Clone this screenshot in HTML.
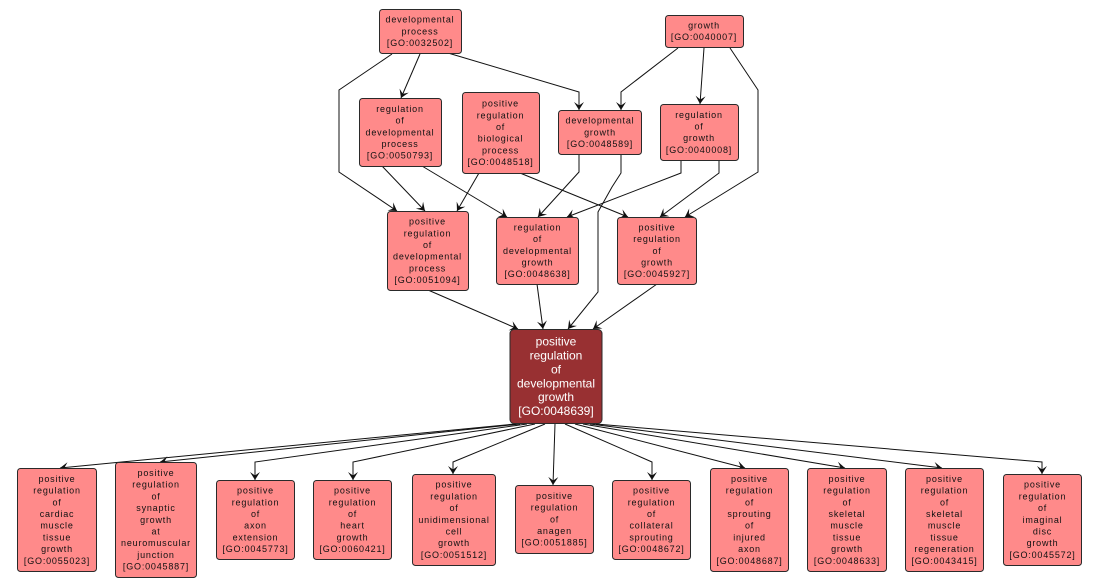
<!DOCTYPE html>
<html>
<head>
<meta charset="utf-8">
<style>
html,body{margin:0;padding:0;background:#fff;}
svg{display:block;}
.n{fill:#ff8a8a;stroke:#2a2a2a;stroke-width:1;}
.c{fill:#983032;stroke:#2a2a2a;stroke-width:1;}
.t{font-family:"Liberation Sans",Arial,sans-serif;font-size:9px;letter-spacing:0.8px;fill:#111;text-anchor:middle;}
.w{font-family:"Liberation Sans",Arial,sans-serif;font-size:12px;fill:#fff;text-anchor:middle;}
.e{fill:none;stroke:#111;stroke-width:1;}
</style>
</head>
<body>
<svg width="1101" height="588" viewBox="0 0 1101 588" xmlns="http://www.w3.org/2000/svg">
<defs>
<marker id="a" markerUnits="userSpaceOnUse" markerWidth="14" markerHeight="14" viewBox="-10 -7 11 14" refX="0" refY="0" orient="auto">
<path d="M0,0 L-8,-5 L-4.5,0 L-8,5 Z" fill="#111"/>
</marker>
</defs>

<!-- edges top -->
<polyline class="e" marker-end="url(#a)" points="420,54 401,98"/>
<polyline class="e" marker-end="url(#a)" points="392,54 339,90 339,172 397,211"/>
<polyline class="e" marker-end="url(#a)" points="448,53 579,92 579,110"/>
<polyline class="e" marker-end="url(#a)" points="678,48 621,92 621,110"/>
<polyline class="e" marker-end="url(#a)" points="704,48 700,104"/>
<polyline class="e" marker-end="url(#a)" points="730,48 758,90 758,172 685,217"/>
<polyline class="e" marker-end="url(#a)" points="382,166 425,211"/>
<polyline class="e" marker-end="url(#a)" points="422,166 507,217"/>
<polyline class="e" marker-end="url(#a)" points="479,173 457,211"/>
<polyline class="e" marker-end="url(#a)" points="520,173 628,217"/>
<polyline class="e" marker-end="url(#a)" points="579,154 579,172 538,217"/>
<polyline class="e" marker-end="url(#a)" points="621,154 621,173 612,187 598,212 598,292 568,329"/>
<polyline class="e" marker-end="url(#a)" points="681,160 681,173 567,217"/>
<polyline class="e" marker-end="url(#a)" points="719,160 719,173 660,217"/>
<polyline class="e" marker-end="url(#a)" points="428,290 518,329"/>
<polyline class="e" marker-end="url(#a)" points="537,284 543,329"/>
<polyline class="e" marker-end="url(#a)" points="657,284 593,329"/>

<!-- edges bottom -->
<polyline class="e" marker-end="url(#a)" points="515,424 60,468"/>
<polyline class="e" marker-end="url(#a)" points="520,424 160,462"/>
<polyline class="e" marker-end="url(#a)" points="527,424 255,462 255,480"/>
<polyline class="e" marker-end="url(#a)" points="535,424 353,462 353,480"/>
<polyline class="e" marker-end="url(#a)" points="545,424 453,462 453,474"/>
<polyline class="e" marker-end="url(#a)" points="555,424 553,485"/>
<polyline class="e" marker-end="url(#a)" points="565,424 652,462 652,480"/>
<polyline class="e" marker-end="url(#a)" points="575,424 745,468"/>
<polyline class="e" marker-end="url(#a)" points="583,424 845,468"/>
<polyline class="e" marker-end="url(#a)" points="590,424 942,468"/>
<polyline class="e" marker-end="url(#a)" points="596,424 1042,462 1042,474"/>

<!-- nodes -->
<rect class="n" x="379.5" y="9.5" width="82" height="44" rx="3"/>
<text class="t" x="420" y="22.6">developmental</text>
<text class="t" x="420" y="34.3">process</text>
<text class="t" x="420" y="46">[GO:0032502]</text>

<rect class="n" x="665.5" y="15.5" width="78" height="32" rx="3"/>
<text class="t" x="704" y="28.5">growth</text>
<text class="t" x="704" y="40.2">[GO:0040007]</text>

<rect class="n" x="359.5" y="98.5" width="82" height="68" rx="3"/>
<text class="t" x="400" y="111.9">regulation</text>
<text class="t" x="400" y="123.6">of</text>
<text class="t" x="400" y="135.3">developmental</text>
<text class="t" x="400" y="147">process</text>
<text class="t" x="400" y="158.7">[GO:0050793]</text>

<rect class="n" x="462.5" y="92.5" width="77" height="81" rx="3"/>
<text class="t" x="500.5" y="106.6">positive</text>
<text class="t" x="500.5" y="118.3">regulation</text>
<text class="t" x="500.5" y="130">of</text>
<text class="t" x="500.5" y="141.7">biological</text>
<text class="t" x="500.5" y="153.4">process</text>
<text class="t" x="500.5" y="165.1">[GO:0048518]</text>

<rect class="n" x="558.5" y="110.5" width="83" height="44" rx="3"/>
<text class="t" x="600" y="123.6">developmental</text>
<text class="t" x="600" y="135.3">growth</text>
<text class="t" x="600" y="147">[GO:0048589]</text>

<rect class="n" x="660.5" y="104.5" width="78" height="56" rx="3"/>
<text class="t" x="699" y="117.8">regulation</text>
<text class="t" x="699" y="129.5">of</text>
<text class="t" x="699" y="141.2">growth</text>
<text class="t" x="699" y="152.9">[GO:0040008]</text>

<rect class="n" x="387.5" y="211.5" width="81" height="79" rx="3"/>
<text class="t" x="427.5" y="224.6">positive</text>
<text class="t" x="427.5" y="236.3">regulation</text>
<text class="t" x="427.5" y="248">of</text>
<text class="t" x="427.5" y="259.7">developmental</text>
<text class="t" x="427.5" y="271.4">process</text>
<text class="t" x="427.5" y="283.1">[GO:0051094]</text>

<rect class="n" x="496.5" y="217.5" width="82" height="67" rx="3"/>
<text class="t" x="537.5" y="230.4">regulation</text>
<text class="t" x="537.5" y="242.1">of</text>
<text class="t" x="537.5" y="253.8">developmental</text>
<text class="t" x="537.5" y="265.5">growth</text>
<text class="t" x="537.5" y="277.2">[GO:0048638]</text>

<rect class="n" x="617.5" y="217.5" width="79" height="67" rx="3"/>
<text class="t" x="657" y="230.4">positive</text>
<text class="t" x="657" y="242.1">regulation</text>
<text class="t" x="657" y="253.8">of</text>
<text class="t" x="657" y="265.5">growth</text>
<text class="t" x="657" y="277.2">[GO:0045927]</text>

<rect class="c" x="510" y="329.5" width="92" height="94" rx="4"/>
<text class="w" x="556" y="345.6">positive</text>
<text class="w" x="556" y="359.5">regulation</text>
<text class="w" x="556" y="373.4">of</text>
<text class="w" x="556" y="387.3">developmental</text>
<text class="w" x="556" y="401.2">growth</text>
<text class="w" x="556" y="415.1">[GO:0048639]</text>

<!-- bottom row -->
<rect class="n" x="17.5" y="468.5" width="79" height="103" rx="3"/>
<text class="t" x="57" y="481.9">positive</text>
<text class="t" x="57" y="493.6">regulation</text>
<text class="t" x="57" y="505.3">of</text>
<text class="t" x="57" y="517">cardiac</text>
<text class="t" x="57" y="528.7">muscle</text>
<text class="t" x="57" y="540.4">tissue</text>
<text class="t" x="57" y="552.1">growth</text>
<text class="t" x="57" y="563.8">[GO:0055023]</text>

<rect class="n" x="115.5" y="462.5" width="81" height="115" rx="3"/>
<text class="t" x="156" y="476">positive</text>
<text class="t" x="156" y="487.7">regulation</text>
<text class="t" x="156" y="499.4">of</text>
<text class="t" x="156" y="511.1">synaptic</text>
<text class="t" x="156" y="522.8">growth</text>
<text class="t" x="156" y="534.5">at</text>
<text class="t" x="156" y="546.2">neuromuscular</text>
<text class="t" x="156" y="557.9">junction</text>
<text class="t" x="156" y="569.6">[GO:0045887]</text>

<rect class="n" x="216.5" y="480.5" width="78" height="79" rx="3"/>
<text class="t" x="255.5" y="493.6">positive</text>
<text class="t" x="255.5" y="505.3">regulation</text>
<text class="t" x="255.5" y="517">of</text>
<text class="t" x="255.5" y="528.7">axon</text>
<text class="t" x="255.5" y="540.4">extension</text>
<text class="t" x="255.5" y="552.1">[GO:0045773]</text>

<rect class="n" x="313.5" y="480.5" width="78" height="79" rx="3"/>
<text class="t" x="352.5" y="493.6">positive</text>
<text class="t" x="352.5" y="505.3">regulation</text>
<text class="t" x="352.5" y="517">of</text>
<text class="t" x="352.5" y="528.7">heart</text>
<text class="t" x="352.5" y="540.4">growth</text>
<text class="t" x="352.5" y="552.1">[GO:0060421]</text>

<rect class="n" x="412.5" y="474.5" width="83" height="91" rx="3"/>
<text class="t" x="454" y="487.7">positive</text>
<text class="t" x="454" y="499.4">regulation</text>
<text class="t" x="454" y="511.1">of</text>
<text class="t" x="454" y="522.8">unidimensional</text>
<text class="t" x="454" y="534.5">cell</text>
<text class="t" x="454" y="546.2">growth</text>
<text class="t" x="454" y="557.9">[GO:0051512]</text>

<rect class="n" x="515.5" y="485.5" width="78" height="68" rx="3"/>
<text class="t" x="554.5" y="498.9">positive</text>
<text class="t" x="554.5" y="510.6">regulation</text>
<text class="t" x="554.5" y="522.3">of</text>
<text class="t" x="554.5" y="534">anagen</text>
<text class="t" x="554.5" y="545.7">[GO:0051885]</text>

<rect class="n" x="612.5" y="480.5" width="78" height="79" rx="3"/>
<text class="t" x="651.5" y="493.6">positive</text>
<text class="t" x="651.5" y="505.3">regulation</text>
<text class="t" x="651.5" y="517">of</text>
<text class="t" x="651.5" y="528.7">collateral</text>
<text class="t" x="651.5" y="540.4">sprouting</text>
<text class="t" x="651.5" y="552.1">[GO:0048672]</text>

<rect class="n" x="710.5" y="468.5" width="78" height="103" rx="3"/>
<text class="t" x="749.5" y="481.9">positive</text>
<text class="t" x="749.5" y="493.6">regulation</text>
<text class="t" x="749.5" y="505.3">of</text>
<text class="t" x="749.5" y="517">sprouting</text>
<text class="t" x="749.5" y="528.7">of</text>
<text class="t" x="749.5" y="540.4">injured</text>
<text class="t" x="749.5" y="552.1">axon</text>
<text class="t" x="749.5" y="563.8">[GO:0048687]</text>

<rect class="n" x="807.5" y="468.5" width="79" height="103" rx="3"/>
<text class="t" x="847" y="481.9">positive</text>
<text class="t" x="847" y="493.6">regulation</text>
<text class="t" x="847" y="505.3">of</text>
<text class="t" x="847" y="517">skeletal</text>
<text class="t" x="847" y="528.7">muscle</text>
<text class="t" x="847" y="540.4">tissue</text>
<text class="t" x="847" y="552.1">growth</text>
<text class="t" x="847" y="563.8">[GO:0048633]</text>

<rect class="n" x="905.5" y="468.5" width="78" height="103" rx="3"/>
<text class="t" x="944.5" y="481.9">positive</text>
<text class="t" x="944.5" y="493.6">regulation</text>
<text class="t" x="944.5" y="505.3">of</text>
<text class="t" x="944.5" y="517">skeletal</text>
<text class="t" x="944.5" y="528.7">muscle</text>
<text class="t" x="944.5" y="540.4">tissue</text>
<text class="t" x="944.5" y="552.1">regeneration</text>
<text class="t" x="944.5" y="563.8">[GO:0043415]</text>

<rect class="n" x="1003.5" y="474.5" width="78" height="91" rx="3"/>
<text class="t" x="1042.5" y="487.7">positive</text>
<text class="t" x="1042.5" y="499.4">regulation</text>
<text class="t" x="1042.5" y="511.1">of</text>
<text class="t" x="1042.5" y="522.8">imaginal</text>
<text class="t" x="1042.5" y="534.5">disc</text>
<text class="t" x="1042.5" y="546.2">growth</text>
<text class="t" x="1042.5" y="557.9">[GO:0045572]</text>
</svg>
</body>
</html>
